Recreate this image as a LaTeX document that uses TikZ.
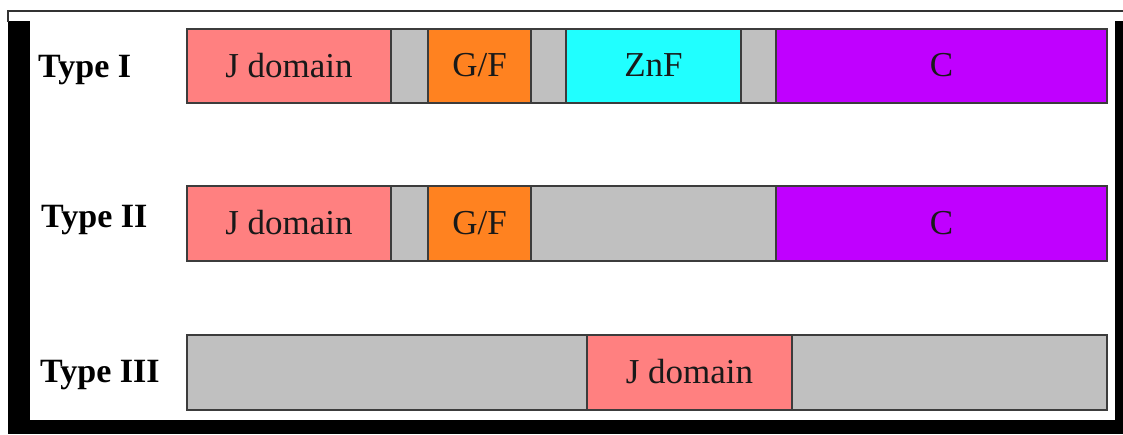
\documentclass[tikz,border=0pt]{standalone}
\usepackage{fontspec}
\setmainfont{Liberation Serif}
\definecolor{jpink}{RGB}{255,128,128}
\definecolor{lgray}{RGB}{192,192,192}
\definecolor{gforange}{RGB}{255,130,32}
\definecolor{zncyan}{RGB}{32,255,255}
\definecolor{cpurple}{RGB}{192,0,255}
\definecolor{edgegray}{RGB}{60,60,60}
\tikzset{
  seg/.style={draw=edgegray, line width=1.3pt, inner sep=0pt, outer sep=0pt, font=\fontsize{35}{40}\selectfont, text=black!90},
  rowlabel/.style={anchor=west, inner sep=0pt, font=\fontsize{34}{38}\selectfont\bfseries}
}
% segment: name, x0, x1, y0, y1, fill, text
\newcommand{\segbox}[7]{%
  \pgfmathsetmacro{\sw}{#3-#2}\pgfmathsetmacro{\sh}{#5-#4}%
  \pgfmathsetmacro{\cx}{(#2+#3)/2}\pgfmathsetmacro{\cy}{(#4+#5)/2}%
  \node[seg, fill=#6, minimum width=\sw pt, minimum height=\sh pt] (#1) at (\cx,\cy) {\raisebox{1.5pt}{#7}};}
\begin{document}
\begin{tikzpicture}[x=1pt,y=-1pt]
\fill[white] (0,0) rectangle (1123,434);
\useasboundingbox (0,0) rectangle (1123,434);
% frame
\fill[black] (8,21) rectangle (1123,434);
\fill[white] (30,21) rectangle (1115,420);
\draw[line width=1.2pt, black!80] (8,22) -- (8,11) -- (1123,11);
% row 1
\node[rowlabel] (t1) at (38,70) {Type I};
\segbox{a1}{187}{391}{29}{103}{jpink}{J domain}
\segbox{a2}{391}{428}{29}{103}{lgray}{}
\segbox{a3}{428}{531}{29}{103}{gforange}{G/F}
\segbox{a4}{531}{566}{29}{103}{lgray}{}
\segbox{a5}{566}{741}{29}{103}{zncyan}{ZnF}
\segbox{a6}{741}{776}{29}{103}{lgray}{}
\segbox{a7}{776}{1107}{29}{103}{cpurple}{C}
% row 2
\node[rowlabel] (t2) at (41,220) {Type II};
\segbox{b1}{187}{391}{186}{261}{jpink}{J domain}
\segbox{b2}{391}{428}{186}{261}{lgray}{}
\segbox{b3}{428}{531}{186}{261}{gforange}{G/F}
\segbox{b4}{531}{776}{186}{261}{lgray}{}
\segbox{b5}{776}{1107}{186}{261}{cpurple}{C}
% row 3
\node[rowlabel] (t3) at (40,375) {Type III};
\segbox{c1}{187}{587}{335}{410}{lgray}{}
\segbox{c2}{587}{792}{335}{410}{jpink}{J domain}
\segbox{c3}{792}{1107}{335}{410}{lgray}{}
\end{tikzpicture}
\end{document}
